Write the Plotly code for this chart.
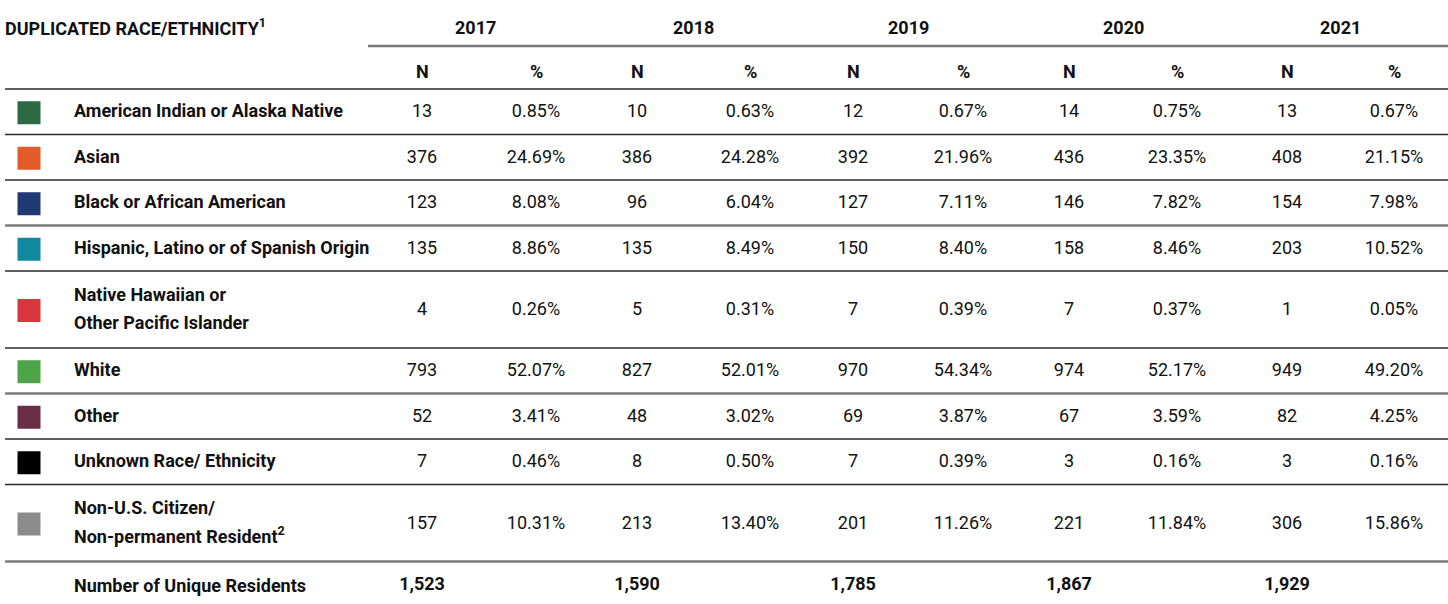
import plotly.graph_objects as go

# ---------------- data ----------------
categories = [
    "American Indian or Alaska Native",
    "Asian",
    "Black or African American",
    "Hispanic, Latino or of Spanish Origin",
    "Native Hawaiian or<br>Other Pacific Islander",
    "White",
    "Other",
    "Unknown Race/ Ethnicity",
    "Non-U.S. Citizen/<br>Non-permanent Resident<sup>2</sup>",
]
swatch_colors = ["#2b6a43", "#e35b2b", "#1f3a72", "#10889e", "#d8363c",
                 "#4da548", "#6a2d46", "#000000", "#8c8c8c"]
years = ["2017", "2018", "2019", "2020", "2021"]
n_2017 = [13, 376, 123, 135, 4, 793, 52, 7, 157]
n_2018 = [10, 386, 96, 135, 5, 827, 48, 8, 213]
n_2019 = [12, 392, 127, 150, 7, 970, 69, 7, 201]
n_2020 = [14, 436, 146, 158, 7, 974, 67, 3, 221]
n_2021 = [13, 408, 154, 203, 1, 949, 82, 3, 306]
pct_2017 = [0.85, 24.69, 8.08, 8.86, 0.26, 52.07, 3.41, 0.46, 10.31]
pct_2018 = [0.63, 24.28, 6.04, 8.49, 0.31, 52.01, 3.02, 0.50, 13.40]
pct_2019 = [0.67, 21.96, 7.11, 8.40, 0.39, 54.34, 3.87, 0.39, 11.26]
pct_2020 = [0.75, 23.35, 7.82, 8.46, 0.37, 52.17, 3.59, 0.16, 11.84]
pct_2021 = [0.67, 21.15, 7.98, 10.52, 0.05, 49.20, 4.25, 0.16, 15.86]
unique_residents = [1523, 1590, 1785, 1867, 1929]
total_label = "Number of Unique Residents"
header_title = "DUPLICATED RACE/ETHNICITY<sup>1</sup>"

n_by_year = [n_2017, n_2018, n_2019, n_2020, n_2021]
pct_by_year = [pct_2017, pct_2018, pct_2019, pct_2020, pct_2021]

# ---------------- layout constants ----------------
W, H = 1448, 604
FONT = "Roboto, Liberation Sans, sans-serif"
FS = 18
TXT = "#111111"
n_x = [422, 637, 853, 1069, 1287]
pct_x = [536, 750, 963, 1177, 1394]
year_x = [475, 693, 908, 1123, 1340]
swatch_x = 29
label_x = 74
row_top = 89
row_heights = [45.5, 45.5, 45.5, 45.5, 77, 45.5, 45.5, 45.5, 77]
boundary_gray = [False, False, True, False, False, True, False, False, True]
line_gap = 28.5  # spacing between the two lines of wrapped labels

bounds = [row_top]
for h in row_heights:
    bounds.append(bounds[-1] + h)
row_y = [(bounds[i] + bounds[i + 1]) / 2 + 1 for i in range(len(row_heights))]
total_y = bounds[-1] + 24

# split wrapped labels into separately placed lines
lab_x, lab_y, lab_t = [], [], []
for yc, cat in zip(row_y, categories):
    parts = cat.split("<br>")
    k = len(parts)
    for j, p in enumerate(parts):
        lab_x.append(label_x)
        lab_y.append(yc + (j - (k - 1) / 2) * line_gap)
        lab_t.append(p)

fig = go.Figure()

# colour swatches
fig.add_trace(go.Scatter(
    x=[swatch_x] * len(categories), y=row_y, mode="markers",
    marker=dict(symbol="square", size=23, color=swatch_colors, line=dict(width=0)),
    hoverinfo="skip", showlegend=False))

# category labels
fig.add_trace(go.Scatter(
    x=lab_x, y=lab_y, mode="text",
    text=lab_t, textposition="middle right",
    textfont=dict(family=FONT, size=FS, color=TXT, weight="bold"),
    hoverinfo="skip", showlegend=False))

# values
for i in range(len(years)):
    fig.add_trace(go.Scatter(
        x=[n_x[i]] * len(categories), y=row_y, mode="text",
        text=[f"{v:,}" for v in n_by_year[i]], textposition="middle center",
        textfont=dict(family=FONT, size=FS, color=TXT),
        hoverinfo="skip", showlegend=False))
    fig.add_trace(go.Scatter(
        x=[pct_x[i]] * len(categories), y=row_y, mode="text",
        text=[f"{v:.2f}%" for v in pct_by_year[i]], textposition="middle center",
        textfont=dict(family=FONT, size=FS, color=TXT),
        hoverinfo="skip", showlegend=False))

# totals row
fig.add_trace(go.Scatter(
    x=n_x, y=[total_y] * len(years), mode="text",
    text=[f"{v:,}" for v in unique_residents], textposition="middle center",
    textfont=dict(family=FONT, size=FS, color=TXT, weight="bold"),
    hoverinfo="skip", showlegend=False))

bold = dict(family=FONT, size=FS, color=TXT, weight="bold")
annotations = [
    dict(x=5, y=27, text=header_title, showarrow=False, xanchor="left",
         yanchor="middle", font=bold, xshift=-2),
    dict(x=label_x, y=total_y, text=total_label, showarrow=False, xanchor="left",
         yanchor="middle", font=bold, xshift=-2),
]
for i, yr in enumerate(years):
    annotations.append(dict(x=year_x[i], y=27, text=yr, showarrow=False,
                            xanchor="center", yanchor="middle", font=bold))
    annotations.append(dict(x=n_x[i], y=71, text="N", showarrow=False,
                            xanchor="center", yanchor="middle", font=bold))
    annotations.append(dict(x=pct_x[i], y=71, text="%", showarrow=False,
                            xanchor="center", yanchor="middle", font=bold))

dark = dict(color="#2a2a2a", width=1.5)
gray = dict(color="#7a7a7a", width=2.5)
shapes = [
    dict(type="line", x0=368, x1=W, y0=46, y1=46, xref="x", yref="y", line=gray),
    dict(type="line", x0=5, x1=W, y0=row_top, y1=row_top, xref="x", yref="y", line=dark),
]
for b, g in zip(bounds[1:], boundary_gray):
    shapes.append(dict(type="line", x0=5, x1=W, y0=b, y1=b, xref="x", yref="y",
                       line=gray if g else dark))

fig.update_layout(
    width=W, height=H, margin=dict(l=0, r=0, t=0, b=0),
    paper_bgcolor="white", plot_bgcolor="white",
    xaxis=dict(range=[0, W], visible=False, fixedrange=True),
    yaxis=dict(range=[H, 0], visible=False, fixedrange=True),
    annotations=annotations, shapes=shapes, showlegend=False,
)

fig.write_html("out.html", config={"displayModeBar": False},
               post_script="document.body.style.margin='0';document.body.style.overflow='hidden';")
